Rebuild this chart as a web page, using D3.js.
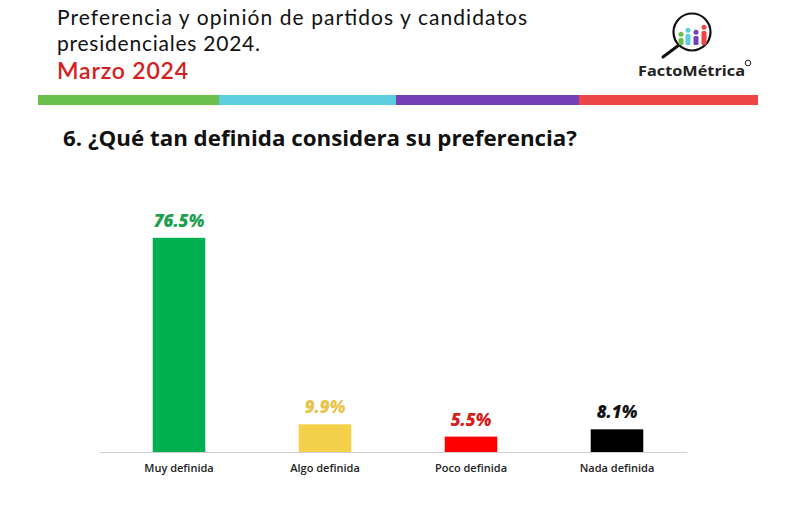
<!DOCTYPE html>
<html><head><meta charset="utf-8">
<script src="https://cdn.jsdelivr.net/npm/d3@7"></script>
<style>body{margin:0;background:#fff;} svg{display:block;}</style>
</head><body>
<script>
const categories = ["Muy definida", "Algo definida", "Poco definida", "Nada definida"];
const values = [76.5, 9.9, 5.5, 8.1];
const valueLabels = ["76.5%", "9.9%", "5.5%", "8.1%"];
const barColors = ["#00b050", "#f5d04a", "#ff0000", "#000000"];
const labelColors = ["#1aa050", "#e8c44a", "#d42020", "#111111"];
const stripeColors = ["#6abf4b", "#5bcfe0", "#7340b8", "#f04545"];

const W = 792, H = 505;
const svg = d3.select("body").append("svg").attr("width", W).attr("height", H);

// Header
const hf = "Lato, 'Open Sans', sans-serif";
svg.append("text").attr("x", 57).attr("y", 25).attr("font-family", hf).attr("font-size", 21)
  .attr("textLength", 470).attr("lengthAdjust", "spacing")
  .attr("fill", "#111").text("Preferencia y opinión de partidos y candidatos");
svg.append("text").attr("x", 57).attr("y", 51).attr("font-family", hf).attr("font-size", 21)
  .attr("textLength", 203).attr("lengthAdjust", "spacing")
  .attr("fill", "#111").text("presidenciales  2024.");
svg.append("text").attr("x", 57).attr("y", 79).attr("font-family", hf).attr("font-size", 23)
  .attr("textLength", 131).attr("lengthAdjust", "spacing")
  .attr("font-weight", 600).attr("fill", "#d42020").text("Marzo 2024");

// Stripe
const stripeX = [38, 219, 396, 579, 758];
stripeColors.forEach((c, i) => {
  svg.append("rect").attr("x", stripeX[i]).attr("y", 95).attr("width", stripeX[i + 1] - stripeX[i])
    .attr("height", 10).attr("fill", c);
});

// Logo
const lg = svg.append("g");
lg.append("line").attr("x1", 679).attr("y1", 45).attr("x2", 663).attr("y2", 57)
  .attr("stroke", "#111").attr("stroke-width", 3).attr("stroke-linecap", "round");
lg.append("circle").attr("cx", 692).attr("cy", 32).attr("r", 18.5).attr("fill", "#fff")
  .attr("stroke", "#111").attr("stroke-width", 2.2);
const figs = [{x: 681, top: 38, c: "#6abf4b"}, {x: 688, top: 34, c: "#5bcfe0"}, {x: 696, top: 36, c: "#7340b8"}, {x: 704, top: 31, c: "#f04545"}];
figs.forEach(f => {
  lg.append("rect").attr("x", f.x - 2.5).attr("y", f.top).attr("width", 5).attr("height", 45 - f.top)
    .attr("rx", 1.5).attr("fill", f.c);
  lg.append("circle").attr("cx", f.x).attr("cy", f.top - 3.8).attr("r", 2.5).attr("fill", f.c);
});
svg.append("text").attr("x", 638).attr("y", 76)
  .attr("font-family", "'Open Sans', sans-serif").attr("font-weight", 700).attr("font-size", 15)
  .attr("textLength", 107).attr("lengthAdjust", "spacingAndGlyphs")
  .attr("fill", "#222").text("FactoMétrica");
svg.append("circle").attr("cx", 748).attr("cy", 63).attr("r", 2.8).attr("fill", "none")
  .attr("stroke", "#222").attr("stroke-width", 1);

// Question
svg.append("text").attr("x", 63).attr("y", 146).attr("font-family", "'Open Sans', sans-serif")
  .attr("font-weight", 700).attr("font-size", 22).attr("fill", "#111")
  .attr("textLength", 514).attr("lengthAdjust", "spacingAndGlyphs")
  .text("6. ¿Qué tan definida considera su preferencia?");

// Chart
const x = d3.scaleBand().domain(categories).range([106, 690]).paddingInner(0.64).paddingOuter(0.32);
const y = d3.scaleLinear().domain([0, 100]).range([452, 172]);

const g = svg.append("g");
g.selectAll("rect.bar").data(values).join("rect").attr("class", "bar")
  .attr("x", (d, i) => x(categories[i])).attr("y", d => y(d))
  .attr("width", x.bandwidth()).attr("height", d => y(0) - y(d))
  .attr("fill", (d, i) => barColors[i]);

g.selectAll("text.val").data(values).join("text").attr("class", "val")
  .attr("x", (d, i) => x(categories[i]) + x.bandwidth() / 2).attr("y", d => y(d) - 11)
  .attr("text-anchor", "middle").attr("font-family", "'Open Sans', sans-serif")
  .attr("font-weight", 800).attr("font-style", "italic").attr("font-size", 17)
  .attr("fill", (d, i) => labelColors[i]).text((d, i) => valueLabels[i]);

const axis = d3.axisBottom(x).tickSize(0).tickPadding(12);
const ax = svg.append("g").attr("transform", "translate(0,452)").call(axis);
ax.select(".domain").attr("d", "M100,0.5H687").attr("stroke", "#d0d0d0").attr("stroke-width", 1);
ax.selectAll(".tick text").attr("font-family", "'Open Sans', sans-serif").attr("font-size", 11)
  .attr("font-weight", 600).attr("fill", "#222");
</script>
</body></html>
